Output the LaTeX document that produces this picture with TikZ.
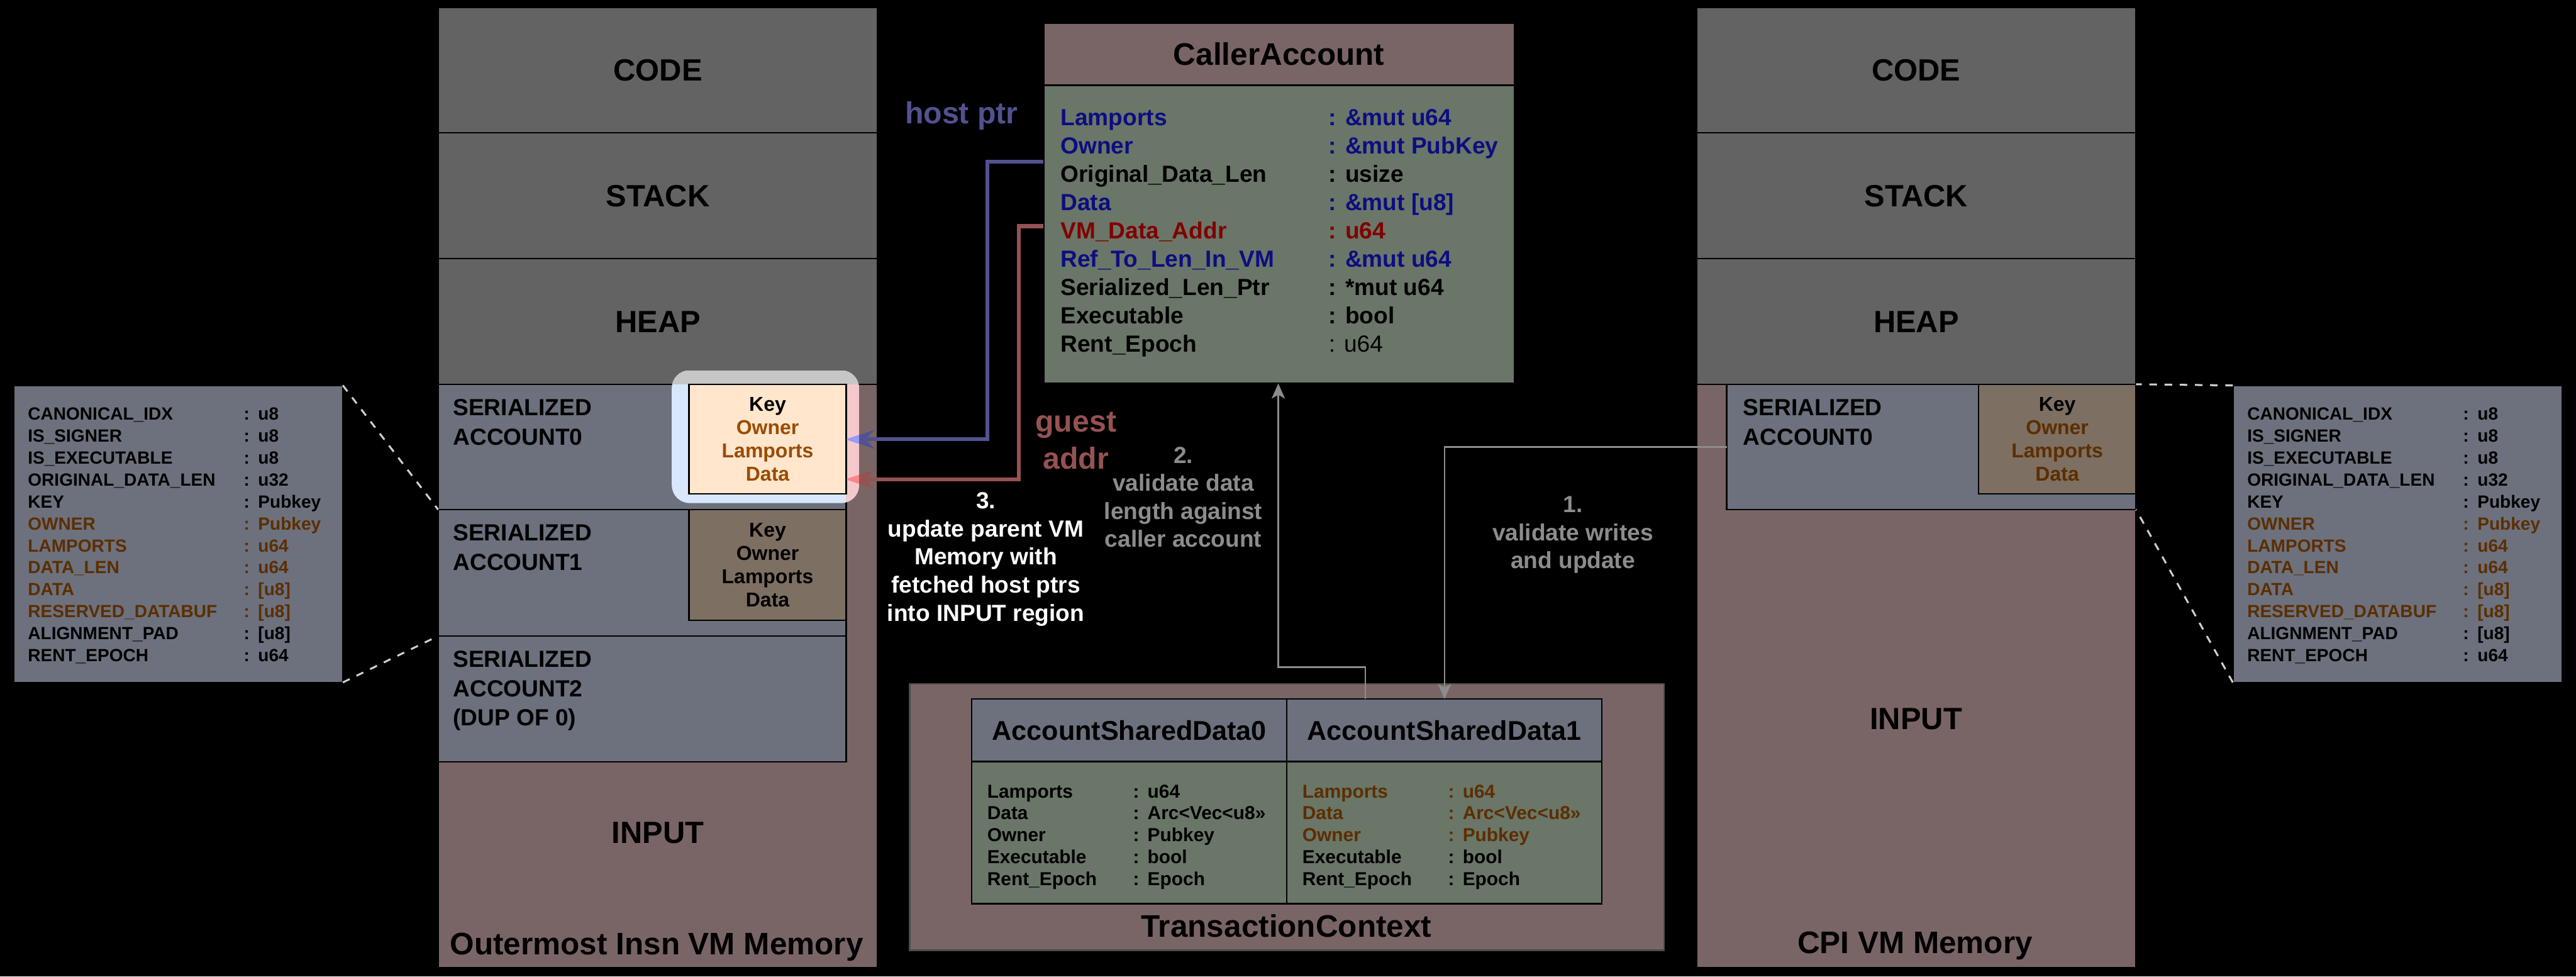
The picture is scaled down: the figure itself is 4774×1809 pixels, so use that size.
\documentclass[tikz,border=0pt]{standalone}
\usepackage{fontspec}
\setmainfont{Liberation Sans}
\usepackage{tikz}
\usetikzlibrary{arrows.meta}
\usetikzlibrary{positioning}
\definecolor{memgrey}{HTML}{636363}
\definecolor{serblue}{HTML}{6C717D}
\definecolor{inputred}{HTML}{7A6566}
\definecolor{keybrown}{HTML}{7D6F62}
\definecolor{bodygreen}{HTML}{6A7668}
\definecolor{fieldbrown}{HTML}{5C2E00}
\definecolor{keyorange}{HTML}{FFE6CC}
\definecolor{ownerorange}{HTML}{994C00}
\definecolor{hostblue}{HTML}{52528F}
\definecolor{guestred}{HTML}{955252}
\definecolor{hostlight}{HTML}{9999FF}
\definecolor{guestlight}{HTML}{FF8585}
\definecolor{navytext}{HTML}{0D0D80}
\definecolor{darkredtext}{HTML}{800000}
\definecolor{stepgrey}{HTML}{8C8C8C}
\definecolor{zoomgrey}{HTML}{D0D0D0}
\definecolor{hlblue}{HTML}{D9E7FD}
\definecolor{hlpink}{HTML}{F5C9CB}
\definecolor{hlgrey}{HTML}{C6C6C6}
\tikzset{region/.style = {draw=black, line width=0.8pt, inner sep=0pt, outer sep=0pt, anchor=north west},
         memtext/.style = {font=\fontsize{16.2}{19.4}\selectfont\bfseries},
         sertext/.style = {anchor=north west, inner sep=0pt, align=left, font=\fontsize{12.3}{15.4}\selectfont\bfseries},
         keytext/.style = {align=center, font=\fontsize{10.6}{12.3}\selectfont\bfseries},
         dettext/.style = {anchor=base west, inner sep=0pt, font=\fontsize{9.3}{11.2}\selectfont\bfseries},
         catext/.style = {anchor=base west, inner sep=0pt, font=\fontsize{12.3}{14.8}\selectfont\bfseries},
         txtext/.style = {anchor=base west, inner sep=0pt, font=\fontsize{9.9}{11.5}\selectfont\bfseries},
         titletext/.style = {font=\fontsize{16.4}{19.6}\selectfont\bfseries},
         annotext/.style = {align=center, inner sep=0pt, font=\fontsize{16}{19.6}\selectfont\bfseries},
         steptext/.style = {align=center, inner sep=0pt, font=\fontsize{12.3}{14.8}\selectfont\bfseries},
         hostptr/.style = {draw=hostblue, line width=2pt, -{Stealth[length=15pt, width=10pt, inset=5pt]}},
         guestptr/.style = {draw=guestred, line width=2pt, -{Stealth[length=15pt, width=10pt, inset=5pt]}},
         steparrow/.style = {draw=stepgrey, line width=0.8pt, -{Stealth[length=8pt, width=7pt, inset=2pt]}},
         zoomline/.style = {draw=zoomgrey, line width=1pt, dash pattern=on 4pt off 4pt}}
\begin{document}
\begin{tikzpicture}[x=0.01cm, y=-0.01cm]
  \useasboundingbox (0,0) rectangle (4774,1809);
  \fill[black] (0,0) rectangle (4774,1809);

  \node[region, memtext, fill=memgrey, minimum width=8.14cm, minimum height=2.32cm] (code1) at (812,14) {CODE};
  \node[region, memtext, fill=memgrey, minimum width=8.14cm, minimum height=2.33cm, below=0pt of code1] (stack1) {STACK};
  \node[region, memtext, fill=memgrey, minimum width=8.14cm, minimum height=2.33cm, below=0pt of stack1] (heap1) {HEAP};
  \node[region, fill=inputred, minimum width=8.14cm, minimum height=10.80cm, below=0pt of heap1] (input1) {};
  \node[memtext] (inlbl1) at (1219,1543) {INPUT};
  \node[titletext] (title1) at (1217,1755) {Outermost Insn VM Memory};
  \node[region, fill=serblue, minimum width=7.56cm, minimum height=2.32cm] (ser0) at (812,712) {};
  \node[region, fill=serblue, minimum width=7.56cm, minimum height=2.34cm, below=0pt of ser0] (ser1) {};
  \node[region, fill=serblue, minimum width=7.56cm, minimum height=2.33cm, below=0pt of ser1] (ser2) {};
  \node[sertext, below right=0.27cm and 0.27cm of ser0.north west] (ser0lbl) {SERIALIZED\\ACCOUNT0};
  \node[sertext, below right=0.27cm and 0.27cm of ser1.north west] (ser1lbl) {SERIALIZED\\ACCOUNT1};
  \node[sertext, below right=0.27cm and 0.27cm of ser2.north west] (ser2lbl) {SERIALIZED\\ACCOUNT2\\(DUP OF 0)};
  \node[region, keytext, fill=keybrown, minimum width=2.91cm, minimum height=2.05cm] (key1) at (1277,944) {Key\\Owner\\Lamports\\Data};

  \begin{scope}
    \clip[rounded corners=0.33cm] (1245,686) rectangle (1592,932);
    \fill[hlblue] (1245,686) rectangle (1592,932);
    \fill[hlgrey] (1245,686) rectangle (1592,712);
    \fill[hlpink] (1568,712) rectangle (1592,932);
  \end{scope}
  \node[region, keytext, fill=keyorange, minimum width=2.91cm, minimum height=2.03cm] (key0) at (1277,712) {Key\\\textcolor{ownerorange}{Owner}\\\textcolor{ownerorange}{Lamports}\\\textcolor{ownerorange}{Data}};

  \node[region, memtext, fill=memgrey, minimum width=8.14cm, minimum height=2.32cm] (code2) at (3144,14) {CODE};
  \node[region, memtext, fill=memgrey, minimum width=8.14cm, minimum height=2.33cm, below=0pt of code2] (stack2) {STACK};
  \node[region, memtext, fill=memgrey, minimum width=8.14cm, minimum height=2.33cm, below=0pt of stack2] (heap2) {HEAP};
  \node[region, fill=inputred, minimum width=8.14cm, minimum height=10.80cm, below=0pt of heap2] (input2) {};
  \node[memtext] (inlbl2) at (3551,1332) {INPUT};
  \node[titletext] (title2) at (3549,1752) {CPI VM Memory};
  \node[region, fill=serblue, minimum width=7.58cm, minimum height=2.32cm] (cser0) at (3200,712) {};
  \node[sertext, below right=0.27cm and 0.30cm of cser0.north west] (cser0lbl) {SERIALIZED\\ACCOUNT0};
  \node[region, keytext, fill=keybrown, minimum width=2.91cm, minimum height=2.03cm] (ckey0) at (3667,712) {Key\\\textcolor{fieldbrown}{Owner}\\\textcolor{fieldbrown}{Lamports}\\\textcolor{fieldbrown}{Data}};

  \node[region, fill=serblue, minimum width=6.10cm, minimum height=5.50cm] (detl) at (25,714) {};
  \node[region, fill=serblue, minimum width=6.10cm, minimum height=5.50cm] (detr) at (4138,714) {};
  \foreach \fld/\typ/\col [count=\i] in {CANONICAL\_IDX/u8/black, IS\_SIGNER/u8/black, IS\_EXECUTABLE/u8/black,
      ORIGINAL\_DATA\_LEN/u32/black, KEY/Pubkey/black, OWNER/Pubkey/fieldbrown, LAMPORTS/u64/fieldbrown,
      DATA\_LEN/u64/fieldbrown, DATA/[u8]/fieldbrown, RESERVED\_DATABUF/[u8]/fieldbrown,
      ALIGNMENT\_PAD/[u8]/black, RENT\_EPOCH/u64/black} {
    \node[dettext, text=\col] (ldf\i) at (51, {778+40.7*(\i-1)}) {\fld};
    \node[dettext, text=\col] (ldv\i) at (451, {778+40.7*(\i-1)}) {:\hspace{4.5pt}\typ};
    \node[dettext, text=\col] (rdf\i) at (4164, {778+40.7*(\i-1)}) {\fld};
    \node[dettext, text=\col] (rdv\i) at (4564, {778+40.7*(\i-1)}) {:\hspace{4.5pt}\typ};
  }
  \draw[zoomline] (detl.north east) -- (ser1.north west);
  \draw[zoomline] (detl.south east) -- (ser1.south west);
  \draw[zoomline] (detr.north west) -- (cser0.north east);
  \draw[zoomline] (detr.south west) -- (cser0.south east);

  \node[region, titletext, fill=inputred, minimum width=8.72cm, minimum height=1.15cm] (cahead) at (1934,43) {CallerAccount};
  \node[region, fill=bodygreen, minimum width=8.72cm, minimum height=5.52cm, below=0pt of cahead] (cabody) {};
  \foreach \fld/\typ/\col [count=\i] in {Lamports/: \&mut u64/navytext, Owner/: \&mut PubKey/navytext,
      Original\_Data\_Len/: usize/black, Data/: \&mut [u8]/navytext, VM\_Data\_Addr/: u64/darkredtext,
      Ref\_To\_Len\_In\_VM/: \&mut u64/navytext, Serialized\_Len\_Ptr/: *mut u64/black,
      Executable/: bool/black, Rent\_Epoch/\mdseries: u64/black} {
    \node[catext, text=\col] (caf\i) at (1965, {233+52.4*(\i-1)}) {\fld};
    \node[catext, text=\col] (cav\i) at (2462, {233+52.4*(\i-1)}) {\typ};
  }

  \node[region, draw=black!70, fill=inputred, minimum width=13.97cm, minimum height=4.93cm] (txctx) at (1686,1267) {};
  \node[titletext] (txlbl) at (2384,1715) {TransactionContext};
  \node[region, titletext, fill=serblue, minimum width=5.835cm, minimum height=1.16cm] (asd0h) at (1801,1295) {\fontsize{14.3}{17}\selectfont AccountSharedData0};
  \node[region, titletext, fill=serblue, minimum width=5.835cm, minimum height=1.16cm, right=0pt of asd0h] (asd1h) {\fontsize{14.3}{17}\selectfont AccountSharedData1};
  \node[region, fill=bodygreen, minimum width=5.835cm, minimum height=2.63cm, below=0pt of asd0h] (asd0b) {};
  \node[region, fill=bodygreen, minimum width=5.835cm, minimum height=2.63cm, below=0pt of asd1h] (asd1b) {};
  \foreach \fld/\typ/\col/\colr [count=\i] in {Lamports/u64/black/fieldbrown, Data/Arc<Vec<u8>>/black/fieldbrown,
      Owner/Pubkey/black/fieldbrown, Executable/bool/black/black, Rent\_Epoch/Epoch/black/black} {
    \node[txtext, text=\col] (tf0\i) at (1829, {1478+40.5*(\i-1)}) {\fld};
    \node[txtext, text=\col] (tv0\i) at (2099, {1478+40.5*(\i-1)}) {:\hspace{4.4pt}\typ};
    \node[txtext, text=\colr] (tf1\i) at (2413, {1478+40.5*(\i-1)}) {\fld};
    \node[txtext, text=\colr] (tv1\i) at (2683, {1478+40.5*(\i-1)}) {:\hspace{4.4pt}\typ};
  }

  \draw[hostptr] (cabody.west |- 0,300) -| (1830,814) -- (key0.east |- 0,814);
  \draw[guestptr] (cabody.west |- 0,419) -| (1888,888) -- (key0.east |- 0,888);
  \begin{scope}
    \clip[rounded corners=0.33cm] (1245,686) rectangle (1592,932);
    \draw[hostptr, draw=hostlight] (1830,814) -- (key0.east |- 0,814);
    \draw[guestptr, draw=guestlight] (1888,888) -- (key0.east |- 0,888);
  \end{scope}
  \draw[steparrow] (2530,0 |- asd1h.north) |- (2369,1236) -- (2369,0 |- cabody.south);
  \draw[steparrow] (cser0.west |- 0,828) -| (2677,0 |- asd1h.north);

  \node[annotext, text=hostblue] (hostlbl) at (1782,215) {host ptr};
  \node[annotext, text=guestred] (guestlbl) at (1994,816) {guest\\addr};
  \node[steptext, text=stepgrey] (step2) at (2193,921) {2.\\validate data\\length against\\caller account};
  \node[steptext, text=white] (step3) at (1827,1036) {3.\\update parent VM\\Memory with\\fetched host ptrs\\into INPUT region};
  \node[steptext, text=stepgrey] (step1) at (2915,991) {1.\\validate writes\\and update};
\end{tikzpicture}
\end{document}
